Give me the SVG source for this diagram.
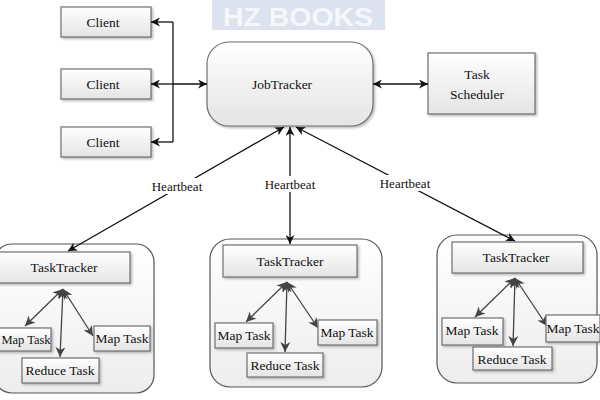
<svg xmlns="http://www.w3.org/2000/svg" width="600" height="400" viewBox="0 0 600 400">
<style>
text{font-family:"Liberation Serif","Times New Roman",serif;font-size:13.5px;fill:#111;text-anchor:middle}
.box{fill:url(#gb);stroke:#707070;stroke-width:1.2;filter:url(#sh)}
.cont{fill:url(#gc);stroke:#555;stroke-width:1.2}
.ln{stroke:#111;stroke-width:1.3;fill:none}
.ln2{stroke:#444;stroke-width:1.3;fill:none}
.hb{font-size:13px}
</style>
<defs>
<linearGradient id="gb" x1="0" y1="0" x2="0" y2="1"><stop offset="0" stop-color="#ffffff"/><stop offset="1" stop-color="#e4e4e4"/></linearGradient>
<linearGradient id="gc" x1="0" y1="0" x2="0" y2="1"><stop offset="0" stop-color="#ffffff"/><stop offset="1" stop-color="#ededed"/></linearGradient>
<filter id="sh" x="-10%" y="-10%" width="130%" height="140%"><feDropShadow dx="1.5" dy="1.5" stdDeviation="1" flood-color="#888" flood-opacity="0.6"/></filter>
<marker id="a" viewBox="0 0 10 10" refX="10" refY="5" markerWidth="10" markerHeight="9" markerUnits="userSpaceOnUse" orient="auto-start-reverse"><path d="M0,0 L10,5 L0,10 L3,5 Z" fill="#111"/></marker>
<marker id="g" viewBox="0 0 10 10" refX="10" refY="5" markerWidth="10" markerHeight="10" markerUnits="userSpaceOnUse" orient="auto-start-reverse"><path d="M0,0 L10,5 L0,10 L3,5 Z" fill="#444"/></marker>
</defs>
<rect width="600" height="400" fill="#fff"/>
<g id="watermark">
<rect x="212" y="0" width="173" height="30" fill="#dde2f1"/>
<text x="298" y="26" style="font-family:'Liberation Sans',Arial,sans-serif;font-size:26px;font-weight:bold;fill:#f6f7fb" textLength="150" lengthAdjust="spacingAndGlyphs">HZ BOOKS</text>
</g>
<g id="client1"><rect class="box" x="61" y="7" width="90" height="30"/><text x="103" y="27">Client</text></g>
<g id="client2"><rect class="box" x="61" y="69" width="90" height="30"/><text x="103" y="89">Client</text></g>
<g id="client3"><rect class="box" x="61" y="127" width="90" height="30"/><text x="103" y="147">Client</text></g>
<g id="jobtracker"><rect class="box" x="207" y="42" width="166" height="84" rx="22"/><text x="282" y="89">JobTracker</text></g>
<g id="scheduler"><rect class="box" x="428" y="53" width="107" height="61"/><text x="477" y="79">Task</text><text x="477" y="99">Scheduler</text></g>
<g id="tt1">
<rect class="cont" x="-6" y="244" width="160" height="149" rx="18"/>
<rect class="box" x="-4" y="252" width="134" height="31"/><text x="64" y="272">TaskTracker</text>
<path class="ln2" d="M63,289 L25,326" marker-start="url(#g)" marker-end="url(#g)"/>
<path class="ln2" d="M63,289 L60,357" marker-start="url(#g)" marker-end="url(#g)"/>
<path class="ln2" d="M63,289 L93,336" marker-start="url(#g)" marker-end="url(#g)"/>
<rect class="box" x="-10" y="328" width="61" height="23"/><text x="26" y="344" style="font-size:12.5px">Map Task</text>
<rect class="box" x="22" y="358" width="77" height="25"/><text x="60" y="375">Reduce Task</text>
<rect class="box" x="94" y="326" width="56" height="25"/><text x="122" y="343">Map Task</text>
</g>
<g id="tt2">
<rect class="cont" x="210" y="239" width="172" height="148" rx="20"/>
<rect class="box" x="223" y="245" width="134" height="32"/><text x="290" y="266">TaskTracker</text>
<path class="ln2" d="M287,282 L246,322" marker-start="url(#g)" marker-end="url(#g)"/>
<path class="ln2" d="M287,282 L285,352" marker-start="url(#g)" marker-end="url(#g)"/>
<path class="ln2" d="M287,282 L318,328" marker-start="url(#g)" marker-end="url(#g)"/>
<rect class="box" x="215" y="323" width="58" height="25"/><text x="244" y="340">Map Task</text>
<rect class="box" x="247" y="353" width="76" height="24"/><text x="285" y="370">Reduce Task</text>
<rect class="box" x="318" y="320" width="59" height="25"/><text x="347" y="337">Map Task</text>
</g>
<g id="tt3">
<rect class="cont" x="437" y="235" width="160" height="148" rx="20"/>
<rect class="box" x="452" y="242" width="131" height="31"/><text x="516" y="262">TaskTracker</text>
<path class="ln2" d="M515,278 L475,317" marker-start="url(#g)" marker-end="url(#g)"/>
<path class="ln2" d="M515,278 L513,346" marker-start="url(#g)" marker-end="url(#g)"/>
<path class="ln2" d="M515,278 L547,326" marker-start="url(#g)" marker-end="url(#g)"/>
<rect class="box" x="442" y="318" width="61" height="27"/><text x="472" y="335">Map Task</text>
<rect class="box" x="473" y="347" width="79" height="23"/><text x="512" y="364">Reduce Task</text>
<rect class="box" x="546" y="315" width="54" height="27"/><text x="573" y="333">Map Task</text>
</g>
<g id="connectors">
<path class="ln" d="M173,22 V142"/>
<path class="ln" d="M173,22 H151" marker-end="url(#a)"/>
<path class="ln" d="M173,84 H151" marker-end="url(#a)"/>
<path class="ln" d="M173,142 H151" marker-end="url(#a)"/>
<path class="ln" d="M173,84 H207" marker-end="url(#a)"/>
<path class="ln" d="M373,84 H428" marker-start="url(#a)" marker-end="url(#a)"/>
<path class="ln" d="M284,127 L68,251" marker-start="url(#a)" marker-end="url(#a)"/>
<path class="ln" d="M290,127 L290,244" marker-start="url(#a)" marker-end="url(#a)"/>
<path class="ln" d="M296,127 L515,241" marker-start="url(#a)" marker-end="url(#a)"/>
<rect x="149" y="178" width="56" height="16" fill="#fff"/>
<text class="hb" x="177" y="191">Heartbeat</text>
<rect x="262" y="176" width="56" height="16" fill="#fff"/>
<text class="hb" x="290" y="189">Heartbeat</text>
<rect x="377" y="175" width="56" height="16" fill="#fff"/>
<text class="hb" x="405" y="188">Heartbeat</text>
</g>
</svg>
